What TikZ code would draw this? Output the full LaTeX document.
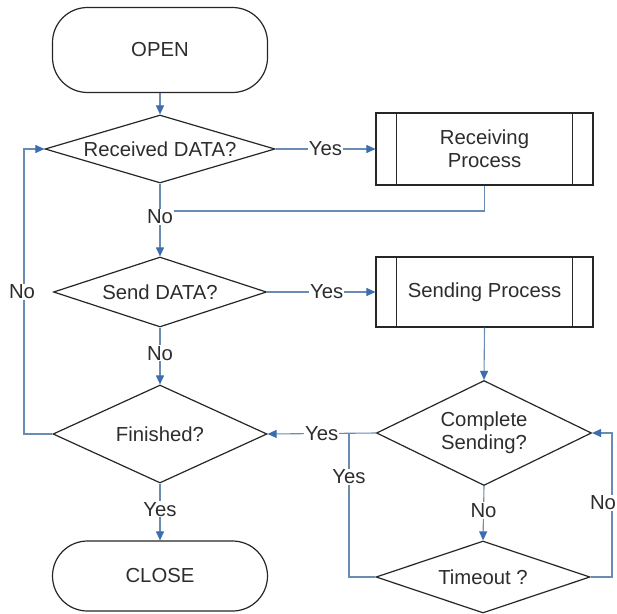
\documentclass[tikz,border=0pt]{standalone}
\usepackage{fontspec}
\setmainfont{Liberation Sans}
\usetikzlibrary{shapes.geometric,arrows.meta}
\definecolor{linec}{RGB}{105,140,178}
\definecolor{arrowc}{RGB}{60,110,175}
\definecolor{txt}{RGB}{45,45,45}
\begin{document}
\begin{tikzpicture}[x=1pt,y=-1pt,
  every node/.style={font=\fontsize{20.3}{23}\selectfont, text=txt},
  term/.style={draw=black!85, line width=1.2pt, rectangle, rounded corners=35pt, minimum width=215pt, inner sep=0pt},
  decis/.style={draw=black!85, line width=1.2pt, diamond, inner sep=0pt, aspect=3, align=center},
  procbox/.style={draw=black!85, line width=1.2pt, rectangle, minimum width=217pt, inner sep=0pt, align=center},
  conn/.style={draw=linec, line width=1.1pt},
  arr/.style={conn, -{Triangle[length=9pt,width=8pt,fill=arrowc,color=arrowc]}},
  lbl/.style={fill=white, inner sep=1pt}
]
\useasboundingbox[fill=white] (0,0) rectangle (617,613);

% nodes
\node[term, minimum height=85pt] (open) at (160,50) {OPEN};
\node[decis, minimum width=230pt, minimum height=68pt] (rcv) at (160,149) {Received DATA?};
\node[procbox, minimum height=72pt] (rproc) at (484.5,149) {Receiving\\Process};
\node[decis, minimum width=213pt, minimum height=70pt] (send) at (160,292) {Send DATA?};
\node[procbox, minimum height=70pt] (sproc) at (484.5,292) {Sending Process};
\node[decis, minimum width=214pt, minimum height=98pt] (fin) at (160,434) {Finished?};
\node[decis, minimum width=215pt, minimum height=105pt, aspect=2] (comp) at (484,433) {Complete\\Sending?};
\node[decis, minimum width=214pt, minimum height=72pt] (tout) at (483,577) {Timeout ?};
\node[term, minimum height=70pt] (close) at (160,576) {CLOSE};

% inner lines of process boxes
\draw[black!85, line width=1.2pt] ([xshift=21pt]rproc.north west) -- ([xshift=21pt]rproc.south west);
\draw[black!85, line width=1.2pt] ([xshift=-21pt]rproc.north east) -- ([xshift=-21pt]rproc.south east);
\draw[black!85, line width=1.2pt] ([xshift=21pt]sproc.north west) -- ([xshift=21pt]sproc.south west);
\draw[black!85, line width=1.2pt] ([xshift=-21pt]sproc.north east) -- ([xshift=-21pt]sproc.south east);

% coordinates
\coordinate (j1) at (484.5,211);
\coordinate (j2) at (160,211);
\coordinate (l1) at (24,434);
\coordinate (l2) at (24,149);
\coordinate (y1) at (349,577);
\coordinate (y2) at (349,434);
\coordinate (r1) at (612,577);
\coordinate (r2) at (612,433);

% connectors
\draw[arr] (open.south) -- (rcv.north);
\draw[arr] (rcv.east) -- node[lbl] {Yes} (rproc.west);
\draw[conn] (rproc.south) -- (j1) -- (j2);
\draw[arr] (rcv.south) -- node[lbl, pos=0.46] {No} (send.north);
\draw[arr] (send.east) -- node[lbl, pos=0.55] {Yes} (sproc.west);
\draw[arr] (send.south) -- node[lbl, pos=0.45] {No} (fin.north);
\draw[arr] (fin.west) -- (l1) -- (l2) -- (rcv.west);
\node[lbl] (nol) at (22,292) {No};
\draw[arr] (sproc.south) -- (comp.north);
\draw[arr] (comp.west) -- node[lbl, pos=0.5] {Yes} (fin.east);
\draw[conn] (tout.west) -- (y1) -- (y2);
\node[lbl] (yesv) at (349,477) {Yes};
\draw[arr] (comp.south) -- node[lbl, pos=0.45] {No} (tout.north);
\draw[arr] (tout.east) -- (r1) -- (r2) -- (comp.east);
\node[lbl] (nor) at (603,503) {No};
\draw[arr] (fin.south) -- node[lbl, pos=0.45] {Yes} (close.north);
\end{tikzpicture}
\end{document}
